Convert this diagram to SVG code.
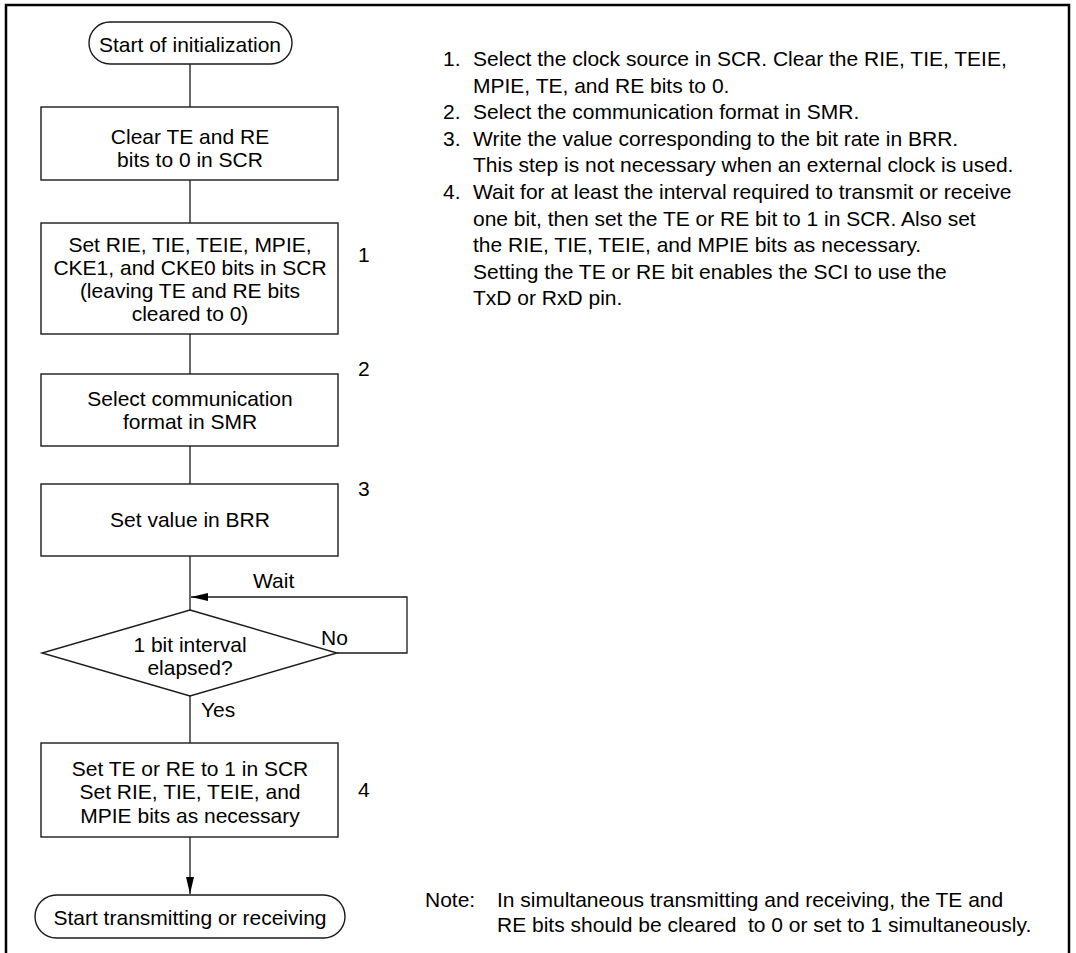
<svg xmlns="http://www.w3.org/2000/svg" width="1076" height="953" viewBox="0 0 1076 953">
<style>
text{font-family:"Liberation Sans",Arial,sans-serif;font-size:21px;fill:#000}
.c{text-anchor:middle}
.shape{fill:#fff;stroke:#1a1a1a;stroke-width:1.4}
.ln{fill:none;stroke:#1a1a1a;stroke-width:1.3}
.frame{fill:none;stroke:#000;stroke-width:2.5}
</style>
<defs>
<marker id="ah" viewBox="0 0 17 8" refX="17" refY="4" markerWidth="17" markerHeight="8" markerUnits="userSpaceOnUse" orient="auto">
<path d="M0,0 L17,4 L0,8 Z" fill="#000"/>
</marker>
</defs>
<rect width="1076" height="953" fill="#fff"/>
<path class="frame" d="M6,953 V5 H1069 V953"/>
<g id="connectors">
<line class="ln" x1="190" y1="64" x2="190" y2="107"/>
<line class="ln" x1="190" y1="180" x2="190" y2="223"/>
<line class="ln" x1="190" y1="334" x2="190" y2="374"/>
<line class="ln" x1="190" y1="446" x2="190" y2="484"/>
<line class="ln" x1="190" y1="556" x2="190" y2="610"/>
<polyline class="ln" points="337,653 407,653 407,597 191,597" marker-end="url(#ah)"/>
<line class="ln" x1="190" y1="696" x2="190" y2="743"/>
<line class="ln" x1="190" y1="837" x2="190" y2="894" marker-end="url(#ah)"/>
<text x="253" y="588">Wait</text>
<text x="321" y="645">No</text>
<text x="201" y="717">Yes</text>
</g>
<g id="start">
<rect class="shape" x="89" y="22" width="203" height="42" rx="21" ry="21"/>
<text class="c" x="190" y="52">Start of initialization</text>
</g>
<g id="clear">
<rect class="shape" x="41" y="107" width="297" height="73"/>
<text class="c" x="190" y="144">Clear TE and RE</text>
<text class="c" x="190" y="167">bits to 0 in SCR</text>
</g>
<g id="setbits">
<rect class="shape" x="41" y="223" width="297" height="111"/>
<text class="c" x="190" y="252">Set RIE, TIE, TEIE, MPIE,</text>
<text class="c" x="190" y="275">CKE1, and CKE0 bits in SCR</text>
<text class="c" x="190" y="298">(leaving TE and RE bits</text>
<text class="c" x="190" y="321">cleared to 0)</text>
<text x="358" y="262">1</text>
</g>
<g id="smr">
<rect class="shape" x="41" y="374" width="297" height="72"/>
<text class="c" x="190" y="406">Select communication</text>
<text class="c" x="190" y="429">format in SMR</text>
<text x="358" y="376">2</text>
</g>
<g id="brr">
<rect class="shape" x="41" y="484" width="297" height="72"/>
<text class="c" x="190" y="527">Set value in BRR</text>
<text x="358" y="496">3</text>
</g>
<g id="decision">
<polygon class="shape" points="190,610 337,653 190,696 42,653"/>
<text class="c" x="190" y="652">1 bit interval</text>
<text class="c" x="190" y="675">elapsed?</text>
</g>
<g id="sette">
<rect class="shape" x="41" y="743" width="297" height="94"/>
<text class="c" x="190" y="776">Set TE or RE to 1 in SCR</text>
<text class="c" x="190" y="799">Set RIE, TIE, TEIE, and</text>
<text class="c" x="190" y="823">MPIE bits as necessary</text>
<text x="358" y="797">4</text>
</g>
<g id="end">
<rect class="shape" x="35" y="895" width="310" height="43" rx="21.5" ry="21.5"/>
<text class="c" x="190" y="925">Start transmitting or receiving</text>
</g>
<g id="notes">
<text x="443" y="66">1.</text><text x="473" y="66">Select the clock source in SCR. Clear the RIE, TIE, TEIE,</text>
<text x="473" y="92.6">MPIE, TE, and RE bits to 0.</text>
<text x="443" y="119.2">2.</text><text x="473" y="119.2">Select the communication format in SMR.</text>
<text x="443" y="145.8">3.</text><text x="473" y="145.8">Write the value corresponding to the bit rate in BRR.</text>
<text x="473" y="172.4">This step is not necessary when an external clock is used.</text>
<text x="443" y="199">4.</text><text x="473" y="199">Wait for at least the interval required to transmit or receive</text>
<text x="473" y="225.6">one bit, then set the TE or RE bit to 1 in SCR. Also set</text>
<text x="473" y="252.2">the RIE, TIE, TEIE, and MPIE bits as necessary.</text>
<text x="473" y="278.8">Setting the TE or RE bit enables the SCI to use the</text>
<text x="473" y="305.4">TxD or RxD pin.</text>
</g>
<g id="note">
<text x="425" y="907">Note:</text>
<text x="497" y="907">In simultaneous transmitting and receiving, the TE and</text>
<text x="497" y="932" xml:space="preserve">RE bits should be cleared  to 0 or set to 1 simultaneously.</text>
</g>
</svg>
